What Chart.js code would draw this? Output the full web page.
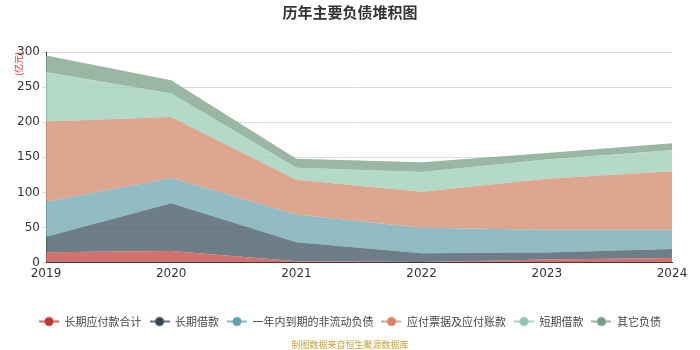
<!DOCTYPE html>
<html>
<head>
<meta charset="utf-8">
<script src="https://cdn.jsdelivr.net/npm/chart.js@4.4.1/dist/chart.umd.min.js"></script>
<style>
  html, body { margin: 0; padding: 0; background: #fff; }
  #wrap { width: 700px; height: 350px; position: relative; }
</style>
</head>
<body>
<div id="wrap"><canvas id="grafico" width="700" height="350"></canvas></div>
<script>
// dados (valores por serie, empilhados)
const anos = ['2019', '2020', '2021', '2022', '2023', '2024'];
const longoPrazoPagar = [14.7, 16.7, 2, 1, 4.3, 6.7];
const emprestimoLongo = [22.3, 68, 27, 12.3, 10, 12.8];
const naoCirculanteUmAno = [49.7, 35.7, 39.6, 36.2, 32.4, 27.2];
const contasPagar = [114.3, 87.1, 49.4, 51.5, 72.8, 83.3];
const emprestimoCurto = [70, 33.4, 17, 28, 27.5, 30];
const outrosPassivos = [24, 19, 13, 14, 9, 10];
const ticksY = [0, 50, 100, 150, 200, 250, 300];

const series = [
    { nome: '长期应付款合计', dados: longoPrazoPagar, cor: '#c23531', fill: 'rgba(205,88,86,0.85)' },
    { nome: '长期借款', dados: emprestimoLongo, cor: '#2f4554', fill: 'rgba(72,94,108,0.8)' },
    { nome: '一年内到期的非流动负债', dados: naoCirculanteUmAno, cor: '#61a0a8', fill: 'rgba(126,176,184,0.85)' },
    { nome: '应付票据及应付账款', dados: contasPagar, cor: '#d48265', fill: 'rgba(218,153,128,0.88)' },
    { nome: '短期借款', dados: emprestimoCurto, cor: '#91c7ae', fill: 'rgba(166,212,192,0.85)' },
    { nome: '其它负债', dados: outrosPassivos, cor: '#749f83', fill: 'rgba(136,170,148,0.85)' }
];

// icone da legenda: linha + bolinha
function iconeLegenda(cor) {
    let c = document.createElement('canvas');
    c.width = 20; c.height = 12;
    let g = c.getContext('2d');
    g.strokeStyle = cor; g.lineWidth = 1.5;
    g.beginPath(); g.moveTo(0, 6); g.lineTo(20, 6); g.stroke();
    g.fillStyle = cor;
    g.beginPath(); g.arc(10, 6, 4.5, 0, Math.PI * 2); g.fill();
    return c;
}

const textosExtras = {
    id: 'textosExtras',
    afterLayout(chart) {
        // centraliza a legenda na largura toda
        chart.legend.left += 14;
        chart.legend.right += 14;
    },
    afterDraw(chart) {
        let ctx = chart.ctx;
        ctx.save();
        ctx.fillStyle = '#333';
        ctx.font = 'bold 15px "Noto Sans CJK SC"';
        ctx.textAlign = 'center';
        ctx.textBaseline = 'middle';
        ctx.fillText('历年主要负债堆积图', 350, 12);

        ctx.fillStyle = '#c9a23c';
        ctx.font = '9px "Noto Sans CJK SC"';
        ctx.fillText('制图数据来自恒生聚源数据库', 350, 345);

        ctx.translate(19, 64);
        ctx.rotate(-Math.PI / 2);
        ctx.fillStyle = '#e03030';
        ctx.font = '9px "Noto Sans CJK SC"';
        ctx.fillText('(亿元)', 0, 0);
        ctx.restore();
    }
};

let ctx1 = document.getElementById('grafico');

new Chart(ctx1, {
    type: 'line',
    data: {
        labels: anos,
        datasets: series.map((s, i) => ({
            label: s.nome,
            data: s.dados,
            borderWidth: 0,
            borderColor: s.fill,
            backgroundColor: s.fill,
            pointRadius: 0,
            fill: i === 0 ? 'origin' : '-1',
            tension: 0
        }))
    },
    options: {
        responsive: false,
        animation: false,
        devicePixelRatio: 1,
        layout: { padding: { top: 52, right: 28, left: 0, bottom: 13 } },
        plugins: {
            tooltip: { enabled: false },
            title: { display: false },
            legend: {
                position: 'bottom',
                labels: {
                    usePointStyle: true,
                    pointStyleWidth: 20,
                    color: '#444',
                    font: { size: 11, family: '"Noto Sans CJK SC"' },
                    padding: 8,
                    generateLabels: (chart) => series.map((s, i) => ({
                        text: s.nome,
                        pointStyle: iconeLegenda(s.cor),
                        fillStyle: s.cor,
                        strokeStyle: s.cor,
                        lineWidth: 0,
                        datasetIndex: i,
                        fontColor: '#444'
                    }))
                }
            }
        },
        scales: {
            x: {
                offset: false,
                afterFit: (axis) => { axis.height += 27; },
                grid: { display: false, drawTicks: true, tickLength: 4, color: '#333' },
                border: { color: '#333' },
                ticks: { color: '#333', font: { size: 12, family: 'DejaVu Sans' }, padding: 0, maxRotation: 0 }
            },
            y: {
                stacked: true,
                min: 0,
                max: 300,
                afterFit: (axis) => { axis.width = 46; },
                afterBuildTicks: (axis) => { axis.ticks = ticksY.map(v => ({ value: v })); },
                grid: { color: '#dcdcdc', tickLength: 4 },
                border: { color: '#333' },
                ticks: { color: '#333', font: { size: 12, family: 'DejaVu Sans' }, padding: 2 }
            }
        }
    },
    plugins: [textosExtras]
});
</script>
</body>
</html>
